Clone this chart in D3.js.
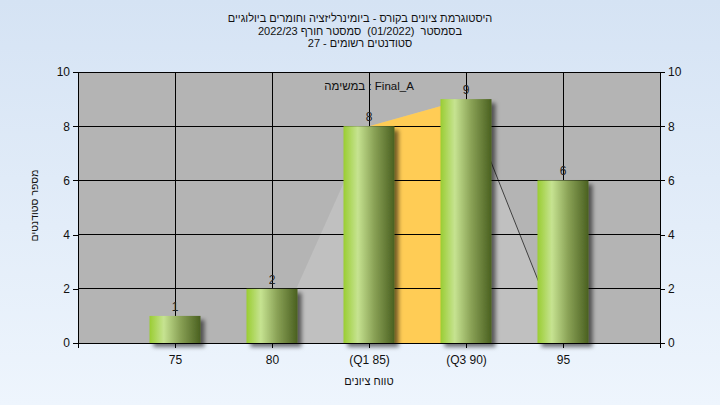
<!DOCTYPE html>
<html><head><meta charset="utf-8">
<script src="https://cdn.jsdelivr.net/npm/d3@7"></script>
<style>
html,body{margin:0;padding:0;}
svg{display:block;font-family:"Liberation Sans","DejaVu Sans",Arial,sans-serif;}
.pre{white-space:pre;}
</style></head>
<body>
<script>
const categories = ["75", "80", "(Q1 85)", "(Q3 90)", "95"];
const counts = [1, 2, 8, 9, 6];
const distribution = [0, 0, 8, 9, 0];
const yTicks = [0, 2, 4, 6, 8, 10];
const q1Index = 2, q3Index = 3;
const titleLines = [
  "היסטוגרמת ציונים בקורס - ביומינרליזציה וחומרים ביולוגיים",
  "בסמסטר  (01/2022)  סמסטר חורף 2022/23",
  "סטודנטים רשומים - 27"
];
const taskLabel = "במשימה : Final_A";
const xTitle = "טווח ציונים";
const yTitle = "מספר סטודנטים";

const W = 720, H = 405;
const m = {left: 78, right: 660, top: 72, bottom: 343};

const svg = d3.select("body").append("svg").attr("width", W).attr("height", H);
const defs = svg.append("defs");

const bg = defs.append("linearGradient").attr("id","bg").attr("x1",0).attr("y1",0).attr("x2",0).attr("y2",1);
bg.append("stop").attr("offset","0%").attr("stop-color","#d5e3f4");
bg.append("stop").attr("offset","100%").attr("stop-color","#eef5fd");

const bar = defs.append("linearGradient").attr("id","bar").attr("x1",0).attr("y1",0).attr("x2",1).attr("y2",0);
[[0,"#9acd32"],[0.28,"#c6e391"],[0.6,"#8aa256"],[1,"#4a6020"]].forEach(([o,c])=>
  bar.append("stop").attr("offset",o).attr("stop-color",c));

const sh = defs.append("filter").attr("id","shadow").attr("x","-20%").attr("y","-20%").attr("width","150%").attr("height","150%");
sh.append("feDropShadow").attr("dx",4).attr("dy",4).attr("stdDeviation",2).attr("flood-color","#000").attr("flood-opacity",0.55);

const clipQ = defs.append("clipPath").attr("id","clipQ");

svg.append("rect").attr("width",W).attr("height",H).attr("fill","url(#bg)");

const x = d3.scalePoint().domain(categories).range([m.left, m.right]).padding(1);
const y = d3.scaleLinear().domain([0, 10]).range([m.bottom, m.top]);

// plot background
svg.append("rect").attr("x",m.left).attr("y",m.top).attr("width",m.right-m.left).attr("height",m.bottom-m.top).attr("fill","#b4b4b4");

// distribution area
const pts = categories.map((c,i)=>[x(c), y(distribution[i])]);
const area = d3.area().x(d=>d[0]).y0(y(0)).y1(d=>d[1]);
const areaPts = pts.slice(1);
svg.append("path").attr("d", area(areaPts)).attr("fill","#c0c0c0");
clipQ.append("rect").attr("x", x(categories[q1Index])).attr("y", m.top).attr("width", x(categories[q3Index]) - x(categories[q1Index])).attr("height", m.bottom - m.top);
svg.append("path").attr("d", area(areaPts)).attr("fill","#ffcc55").attr("clip-path","url(#clipQ)");
svg.append("path").attr("d", d3.line()([pts[q3Index], pts[4]])).attr("stroke","#404040").attr("stroke-width",1).attr("fill","none");

// gridlines
const grid = svg.append("g").attr("stroke","#000").attr("stroke-width",1).attr("shape-rendering","crispEdges");
yTicks.forEach(t=>grid.append("line").attr("x1",m.left).attr("x2",m.right).attr("y1",y(t)).attr("y2",y(t)));
categories.forEach(c=>grid.append("line").attr("x1",x(c)).attr("x2",x(c)).attr("y1",m.top).attr("y2",m.bottom));

// axes
const fs = "12px";
const yAxisL = svg.append("g").attr("transform",`translate(${m.left},0)`)
  .call(d3.axisLeft(y).tickValues(yTicks).tickSize(5).tickPadding(3));
const yAxisR = svg.append("g").attr("transform",`translate(${m.right},0)`)
  .call(d3.axisRight(y).tickValues(yTicks).tickSize(5).tickPadding(3));
const xAxis = svg.append("g").attr("transform",`translate(0,${m.bottom})`)
  .call(d3.axisBottom(x).tickSize(5).tickPadding(7));
[yAxisL,yAxisR,xAxis].forEach(a=>{
  a.selectAll("path").attr("stroke","#000").attr("shape-rendering","crispEdges");
  a.selectAll("line").attr("stroke","#000").attr("shape-rendering","crispEdges");
  a.selectAll("text").attr("fill","#111").style("font-size",fs).style("font-family","'Liberation Sans','DejaVu Sans',Arial,sans-serif");
});
xAxis.select(".domain").attr("d",`M${m.left},0.5H${m.right}`);
yAxisL.select(".domain").attr("d",`M0.5,${m.bottom+5}V${m.top}`);
yAxisR.select(".domain").attr("d",`M0.5,${m.bottom+5}V${m.top}`);

// bars
const bw = 51;
svg.append("g").selectAll("rect").data(counts).join("rect")
  .attr("x",(d,i)=>x(categories[i]) - bw/2)
  .attr("y",d=>y(d))
  .attr("width",bw)
  .attr("height",d=>y(0)-y(d))
  .attr("fill","url(#bar)")
  .attr("filter","url(#shadow)");

// value labels
svg.append("g").selectAll("text").data(counts).join("text")
  .attr("x",(d,i)=>x(categories[i]))
  .attr("y",d=>y(d)-5)
  .attr("text-anchor","middle")
  .attr("font-size",fs).attr("fill","#222")
  .text(d=>d);

// task label
svg.append("text").attr("x",(m.left+m.right)/2).attr("y",90).attr("text-anchor","middle")
  .attr("direction","ltr").attr("font-size","11.5px").attr("fill","#111").text(taskLabel);

// title
svg.append("g").selectAll("text").data(titleLines).join("text")
  .attr("class","pre")
  .attr("x",360).attr("y",(d,i)=>22 + i*12.5)
  .attr("text-anchor","middle").attr("direction","rtl")
  .attr("font-size","11px").attr("fill","#111").text(d=>d);

// axis titles
svg.append("text").attr("x",(m.left+m.right)/2).attr("y",385).attr("text-anchor","middle")
  .attr("direction","rtl").attr("font-size","11px").attr("fill","#111").text(xTitle);
svg.append("text").attr("transform",`translate(38,${(m.top+m.bottom)/2 - 2}) rotate(-90)`)
  .attr("text-anchor","middle").attr("direction","rtl").attr("font-size","10.5px").attr("fill","#111").text(yTitle);
</script>
</body></html>
